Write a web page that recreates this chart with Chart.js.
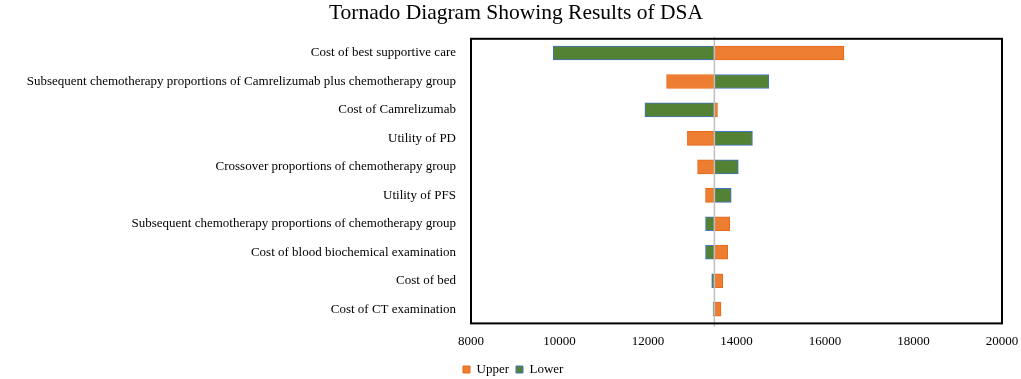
<!DOCTYPE html>
<html>
<head>
<meta charset="utf-8">
<script src="https://cdn.jsdelivr.net/npm/chart.js@4.4.0/dist/chart.umd.min.js"></script>
<style>
    html, body { margin: 0; padding: 0; background: #fff; }
    #wrap { width: 1021px; height: 379px; }
</style>
</head>
<body>
<div id="wrap"><canvas id="tornado"></canvas></div>
<script>
// Data
const baseValue = 13500;
const params = [
    'Cost of best supportive care',
    'Subsequent chemotherapy proportions of Camrelizumab plus chemotherapy group',
    'Cost of Camrelizumab',
    'Utility of PD',
    'Crossover proportions of chemotherapy group',
    'Utility of PFS',
    'Subsequent chemotherapy proportions of chemotherapy group',
    'Cost of blood biochemical examination',
    'Cost of bed',
    'Cost of CT examination'
];
const upperVals = [16430, 12420, 13570, 12890, 13120, 13300, 13850, 13800, 13690, 13650];
const lowerVals = [9860, 14730, 11930, 14360, 14040, 13880, 13300, 13300, 13440, 13470];
const xTicks = [8000, 10000, 12000, 14000, 16000, 18000, 20000];

const serif = '"Liberation Serif", "Times New Roman", serif';

// frame around plot + base line
const framePlugin = {
    id: 'frame',
    afterLayout(chart) {
        // nudge legend left/down and title right, like the original
        if (chart.legend) {
            chart.legend.left -= 15;
            chart.legend.right -= 15;
            chart.legend.top += 7;
            chart.legend.bottom += 7;
        }
        if (chart.titleBlock) {
            chart.titleBlock.left += 15;
            chart.titleBlock.right += 15;
        }
    },
    afterDatasetsDraw(chart) {
        const { ctx, chartArea: a, scales: { x } } = chart;
        const bx = x.getPixelForValue(baseValue);
        ctx.save();
        ctx.strokeStyle = '#bfbfbf';
        ctx.lineWidth = 1.5;
        ctx.beginPath();
        ctx.moveTo(bx, a.top - 2);
        ctx.lineTo(bx, a.bottom + 3);
        ctx.stroke();
        ctx.strokeStyle = '#000';
        ctx.lineWidth = 2;
        ctx.strokeRect(a.left, a.top, a.right - a.left, a.bottom - a.top);
        ctx.restore();
    }
};

const ctx = document.getElementById('tornado').getContext('2d');
new Chart(ctx, {
    type: 'bar',
    data: {
        labels: params,
        datasets: [{
            label: 'Upper',
            data: upperVals.map(v => [baseValue, v]),
            backgroundColor: '#ED7D31',
            borderColor: '#E8691A',
            borderWidth: 1,
            borderSkipped: false,
            barThickness: 14,
            grouped: false
        }, {
            label: 'Lower',
            data: lowerVals.map(v => [baseValue, v]),
            backgroundColor: '#548235',
            borderColor: '#4472C4',
            borderWidth: 1,
            borderSkipped: false,
            barThickness: 14,
            grouped: false
        }]
    },
    options: {
        indexAxis: 'y',
        responsive: true,
        maintainAspectRatio: false,
        animation: false,
        layout: { padding: { left: 0, right: 19, top: 0, bottom: 0 } },
        scales: {
            x: {
                min: 8000,
                max: 20000,
                afterBuildTicks: axis => { axis.ticks = xTicks.map(v => ({ value: v })); },
                afterFit: axis => {
                    axis.paddingRight = 0;
                    axis.height -= 10;
                },
                grid: { display: false, drawTicks: false },
                border: { display: false },
                ticks: {
                    color: '#000',
                    font: { family: serif, size: 13 },
                    padding: 10,
                    maxRotation: 0,
                    callback: v => String(v)
                }
            },
            y: {
                grid: { display: false, drawTicks: false },
                border: { display: false },
                afterFit: axis => { axis.width = 471; },
                ticks: { color: '#000', font: { family: serif, size: 13 }, padding: 15 }
            }
        },
        plugins: {
            title: {
                display: true,
                text: 'Tornado Diagram Showing Results of DSA',
                color: '#000',
                font: { family: serif, size: 21.5, weight: 'normal' },
                padding: { top: 0, bottom: 13 }
            },
            legend: {
                position: 'bottom',
                align: 'start',
                fullSize: false,
                labels: {
                    color: '#000',
                    font: { family: serif, size: 13 },
                    boxWidth: 7,
                    boxHeight: 7,
                    padding: 7
                }
            },
            tooltip: { enabled: false }
        }
    },
    plugins: [framePlugin]
});
</script>
</body>
</html>
